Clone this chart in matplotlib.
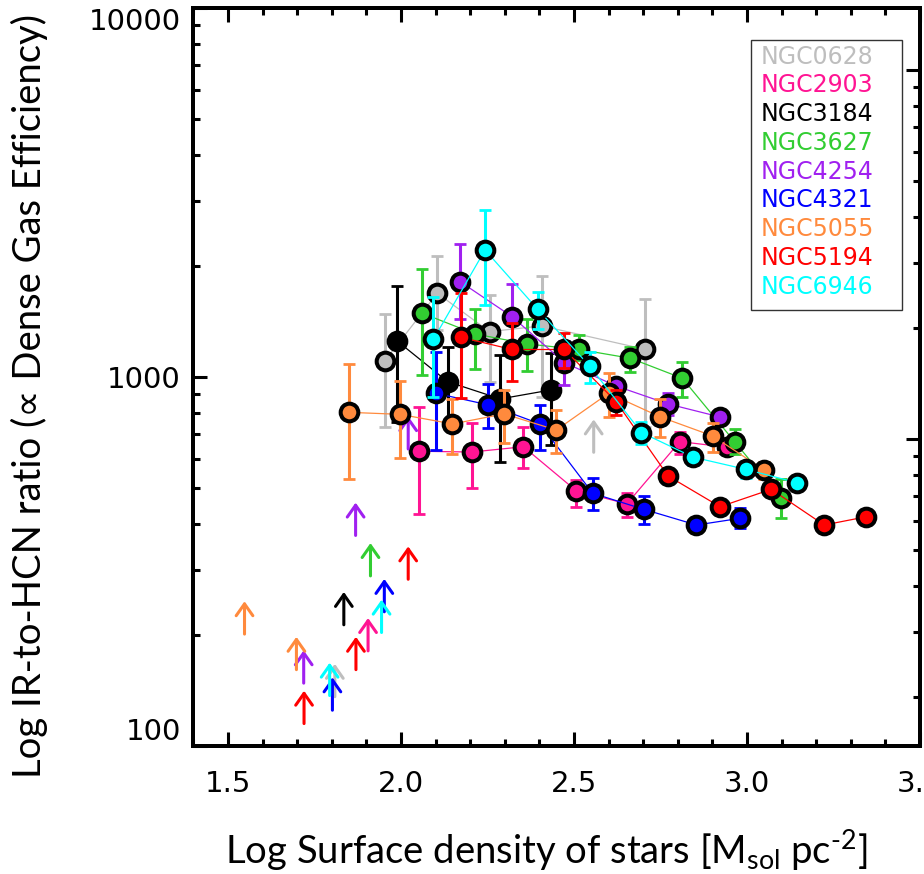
#!/usr/bin/env python
# -*- coding: utf-8 -*-
"""
plot.py
-------
IR-to-HCN ratio (proxy of dense gas efficiency) against the stellar surface
density for nine nearby galaxies. Filled circles are detected bins, arrows
are lower limits.
"""

import matplotlib
matplotlib.use("Agg")
import matplotlib.pyplot as plt
from matplotlib.patches import Rectangle
from matplotlib.ticker import FixedLocator, MultipleLocator, NullFormatter

plt.rcParams["mathtext.fontset"] = "custom"
plt.rcParams["mathtext.rm"] = "Lato"
plt.rcParams["mathtext.it"] = "Lato:italic"

GALAXIES = ["NGC0628", "NGC2903", "NGC3184", "NGC3627", "NGC4254",
            "NGC4321", "NGC5055", "NGC5194", "NGC6946"]
COLORS = ["#bebebe", "#ff1493", "#000000", "#32cd32", "#a020f0",
          "#0000ff", "#ff8a3d", "#ff0000", "#00ffff"]

# x = log Sigma_star, y = IR/HCN, lo/hi = error bar ends
X_0628 = [1.954, 2.105, 2.256, 2.407, 2.704]
Y_0628 = [1107, 1686, 1327, 1375, 1189]
LO_0628 = [733, 1340, 971, 884, 733]
HI_0628 = [1479, 2128, 1668, 1878, 1627]

X_2903 = [2.053, 2.205, 2.354, 2.506, 2.653, 2.806, 2.943]
Y_2903 = [629, 626, 647, 492, 453, 668, 645]
LO_2903 = [425, 499, 566, 445, 418, 618, 645]
HI_2903 = [831, 749, 733, 526, 486, 711, 645]

X_3184 = [1.988, 2.135, 2.287, 2.433]
Y_3184 = [1254, 971, 872, 922]
LO_3184 = [756, 741, 589, 654]
HI_3184 = [1764, 1204, 1147, 1159]

X_3627 = [2.062, 2.214, 2.364, 2.515, 2.663, 2.813, 2.964, 3.099]
Y_3627 = [1488, 1308, 1229, 1187, 1124, 992, 668, 469]
LO_3627 = [1011, 1049, 1040, 1112, 1034, 884, 618, 414]
HI_3627 = [1958, 1526, 1433, 1300, 1208, 1100, 723, 530]

X_4254 = [2.171, 2.321, 2.472, 2.622, 2.772, 2.922]
Y_4254 = [1813, 1457, 1094, 945, 845, 779]
LO_4254 = [1440, 1190, 951, 900, 790, 779]
HI_4254 = [2289, 1786, 1250, 990, 907, 779]

X_4321 = [2.101, 2.253, 2.402, 2.554, 2.701, 2.854, 2.981]
Y_4321 = [903, 840, 746, 484, 438, 397, 414]
LO_4321 = [634, 726, 634, 436, 400, 397, 389]
HI_4321 = [1171, 955, 840, 532, 476, 397, 441]

X_5055 = [1.849, 1.997, 2.149, 2.298, 2.449, 2.600, 2.750, 2.901, 3.049]
Y_5055 = [802, 792, 746, 794, 718, 903, 779, 692, 560]
LO_5055 = [529, 602, 618, 661, 621, 780, 689, 628, 530]
HI_5055 = [1082, 977, 870, 922, 814, 1023, 870, 752, 587]

X_5194 = [2.173, 2.321, 2.472, 2.622, 2.772, 2.922, 3.070, 3.223, 3.345]
Y_5194 = [1281, 1187, 1187, 857, 539, 445, 496, 397, 418]
LO_5194 = [875, 977, 1056, 789, 539, 445, 496, 397, 418]
HI_5194 = [1686, 1398, 1319, 922, 539, 445, 496, 397, 418]

X_6946 = [2.094, 2.243, 2.395, 2.545, 2.695, 2.845, 2.996, 3.144]
Y_6946 = [1265, 2209, 1526, 1071, 707, 606, 562, 517]
LO_6946 = [884, 1567, 1347, 965, 658, 577, 531, 517]
HI_6946 = [1651, 2835, 1703, 1171, 756, 637, 587, 517]

# lower limits: galaxy index, x, y (base of the arrow)
LIMIT_GAL = [0, 0, 1, 2, 3, 4, 4, 4, 5, 5, 6, 6, 7, 7, 7, 8, 8]
LIMIT_X = [1.809, 2.557, 1.905, 1.835, 1.912, 1.719, 1.869, 2.021,
           1.802, 1.952, 1.548, 1.698, 1.720, 1.870, 2.021, 1.794, 1.944]
LIMIT_Y = [136, 625, 181, 213, 289, 148, 372, 638,
           125, 231, 201, 161, 115, 161, 283, 137, 203]

ARROW_DEX = 0.089          # arrow length in log10 units
RIGHT_SHIFT = 10 ** 0.168  # offset of the right-hand log axis


def main() -> None:
    series = [
        (X_0628, Y_0628, LO_0628, HI_0628),
        (X_2903, Y_2903, LO_2903, HI_2903),
        (X_3184, Y_3184, LO_3184, HI_3184),
        (X_3627, Y_3627, LO_3627, HI_3627),
        (X_4254, Y_4254, LO_4254, HI_4254),
        (X_4321, Y_4321, LO_4321, HI_4321),
        (X_5055, Y_5055, LO_5055, HI_5055),
        (X_5194, Y_5194, LO_5194, HI_5194),
        (X_6946, Y_6946, LO_6946, HI_6946),
    ]

    fig = plt.figure(figsize=(9.24, 8.74), dpi=100)
    ax = fig.add_axes([0.2092, 0.1465, 0.7865, 0.8444])
    ax.set_yscale("log")
    ax.set_xlim(1.4, 3.5)
    ax.set_ylim(100, 10000)

    for i, (xs, ys, lo, hi) in enumerate(series):
        c = COLORS[i]
        z = 3 + i
        yerr = [[y - l for y, l in zip(ys, lo)], [h - y for y, h in zip(ys, hi)]]
        ax.plot(xs, ys, "-", color=c, lw=0.9, zorder=z)
        ax.errorbar(xs, ys, yerr=yerr, fmt="none", ecolor=c, elinewidth=2.2,
                    capsize=4, capthick=2.0, zorder=z)
        ax.plot(xs, ys, "o", ms=12.7, mfc=c, mec="black", mew=2.9,
                ls="none", zorder=z)
        for g, lx, ly in zip(LIMIT_GAL, LIMIT_X, LIMIT_Y):
            if g != i:
                continue
            ax.annotate("", xy=(lx, ly * 10 ** ARROW_DEX), xytext=(lx, ly),
                        arrowprops=dict(arrowstyle="->,head_length=0.85,head_width=0.6",
                                        color=c, lw=2.2, shrinkA=0, shrinkB=0,
                                        mutation_scale=10),
                        zorder=z)

    # axes styling (IDL look)
    for s in ax.spines.values():
        s.set_linewidth(2.8)
    ax.xaxis.set_major_locator(FixedLocator([1.5, 2.0, 2.5, 3.0, 3.5]))
    ax.xaxis.set_minor_locator(MultipleLocator(0.1))
    ax.set_xticklabels(["1.5", "2.0", "2.5", "3.0", "3.5"])
    ax.set_yticks([100, 1000, 10000])
    ax.set_yticklabels(["100", "1000", "10000"])
    ax.yaxis.set_minor_formatter(NullFormatter())
    ax.tick_params(which="both", direction="in", top=True, right=False,
                   width=2.2, labelsize=21)
    ax.tick_params(which="major", length=10)
    ax.tick_params(which="minor", length=5)
    ax.tick_params(axis="x", pad=17)
    ax.tick_params(axis="y", pad=9)
    ylabs = ax.get_yticklabels()
    ylabs[0].set_va("bottom")
    ylabs[-1].set_va("top")

    ax2 = ax.twinx()
    ax2.set_yscale("log")
    ax2.set_ylim(100 * RIGHT_SHIFT, 10000 * RIGHT_SHIFT)
    ax2.tick_params(which="both", direction="in", width=2.2, labelright=False)
    ax2.tick_params(which="major", length=10)
    ax2.tick_params(which="minor", length=5)
    ax2.yaxis.set_minor_formatter(NullFormatter())
    for s in ax2.spines.values():
        s.set_linewidth(2.8)

    ax.set_xlabel("Log Surface density of stars [M$_{\\rm sol}$ pc$^{\u2010 2}$]",
                  fontsize=27.5, family=["Lato", "DejaVu Sans"], va="center")
    ax.xaxis.set_label_coords(0.485, -0.141)
    ax.set_ylabel("Log IR-to-HCN ratio (\u221d Dense Gas Efficiency)",
                  fontsize=27.5, family=["Lato", "DejaVu Sans"], va="center")
    ax.yaxis.set_label_coords(-0.225, 0.474)

    # legend: coloured names in a thin box
    ax.add_patch(Rectangle((0.767, 0.5908), 0.208, 0.3658, transform=ax.transAxes,
                           fill=False, ec="#333333", lw=1.0, zorder=20))
    for k, (name, c) in enumerate(zip(GALAXIES, COLORS)):
        ax.text(0.7802, 0.934 - k * 0.03896, name, color=c, fontsize=17,
                transform=ax.transAxes, va="center", ha="left", zorder=21)

    fig.savefig("out.png", dpi=100)
    plt.close(fig)


if __name__ == "__main__":
    main()
